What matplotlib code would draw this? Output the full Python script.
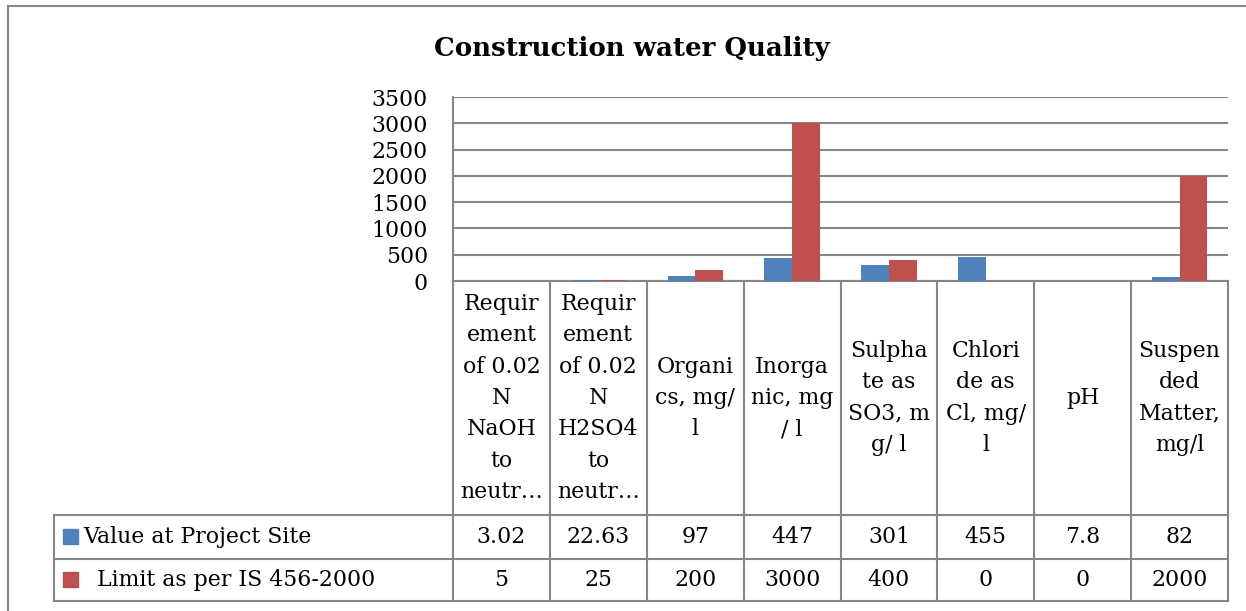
import matplotlib.pyplot as plt
import matplotlib.transforms as mtransforms
import numpy as np

# chart data
categories = ["Requir\nement\nof 0.02\nN\nNaOH\nto\nneutr\u2026",
              "Requir\nement\nof 0.02\nN\nH2SO4\nto\nneutr\u2026",
              "Organi\ncs, mg/\nl",
              "Inorga\nnic, mg\n/ l",
              "Sulpha\nte as\nSO3, m\ng/ l",
              "Chlori\nde as\nCl, mg/\nl",
              "pH",
              "Suspen\nded\nMatter,\nmg/l"]
site_values = [3.02, 22.63, 97, 447, 301, 455, 7.8, 82]
limit_values = [5, 25, 200, 3000, 400, 0, 0, 2000]
site_labels = ["3.02", "22.63", "97", "447", "301", "455", "7.8", "82"]
limit_labels = ["5", "25", "200", "3000", "400", "0", "0", "2000"]
series_names = ["Value at Project Site", "  Limit as per IS 456-2000"]
y_ticks = [0, 500, 1000, 1500, 2000, 2500, 3000, 3500]

BLUE = "#4F81BD"
RED = "#C0504D"
GRID = "#868686"

plt.rcParams['font.family'] = ['DejaVu Serif']

W, H = 1246, 611
fig = plt.figure(figsize=(W / 100, H / 100), dpi=100)

# pixel layout
px_left, px_right = 453, 1228
px_top, px_zero = 97, 281
row1_top, row2_top, table_bottom = 515, 559, 601
legend_left = 54

def pt(px):
    return px * 72 / 100

FS = pt(22)

ax = fig.add_axes([px_left / W, 1 - px_zero / H,
                   (px_right - px_left) / W, (px_zero - px_top) / H])
n = len(categories)
x = np.arange(n)
bw = 0.2857
ax.bar(x - bw / 2, site_values, bw, color=BLUE, zorder=3)
ax.bar(x + bw / 2, limit_values, bw, color=RED, zorder=3)
ax.set_xlim(-0.5, n - 0.5)
ax.set_ylim(0, 3500)
ax.set_yticks(y_ticks)
ax.set_xticks([])
ax.tick_params(axis='y', length=0, pad=pt(25), labelsize=FS)
ax.yaxis.grid(True, color=GRID, lw=1.5)
ax.set_axisbelow(True)
for s in ["top", "right"]:
    ax.spines[s].set_visible(False)
for s in ["left", "bottom"]:
    ax.spines[s].set_color(GRID)
    ax.spines[s].set_linewidth(1.5)

# overlay in pixel coords for the data table + title + border
ov = fig.add_axes([0, 0, 1, 1])
ov.set_xlim(0, W)
ov.set_ylim(H, 0)
ov.axis('off')
ov.patch.set_visible(False)
tr = mtransforms.blended_transform_factory(ax.transData, ov.transData)

lc = dict(color=GRID, lw=1.5)
# outer chart border (runs off the image right/bottom)
ov.plot([8, 8], [6, H + 5], **lc)
ov.plot([8, W + 5], [6, 6], **lc)

# vertical lines of category columns
for k in range(n + 1):
    ov.plot([k - 0.5, k - 0.5], [px_zero, table_bottom], transform=tr, **lc)
# horizontal lines of series rows
for yy in [row1_top, row2_top, table_bottom]:
    ov.plot([legend_left, px_right], [yy, yy], **lc)
ov.plot([legend_left, legend_left], [row1_top, table_bottom], **lc)

# category labels
for k, lab in enumerate(categories):
    ov.text(k, (px_zero + row1_top) / 2, lab, transform=tr, ha='center',
            va='center', multialignment='center', fontsize=FS, linespacing=1.55)

# series rows
rows = [(series_names[0], site_labels, BLUE, (row1_top + row2_top) / 2),
        (series_names[1], limit_labels, RED, (row2_top + table_bottom) / 2)]
for name, labels, col, yc in rows:
    ov.add_patch(plt.Rectangle((63, yc - 8), 15, 15, color=col))
    ov.text(83, yc, name, ha='left', va='center', fontsize=FS)
    for k, lab in enumerate(labels):
        ov.text(k, yc, lab, transform=tr, ha='center', va='center', fontsize=FS)

ov.text(632, 56, "Construction water Quality", ha='center', va='baseline',
        fontsize=pt(26), fontweight='bold')

fig.savefig("out.png", dpi=100)
